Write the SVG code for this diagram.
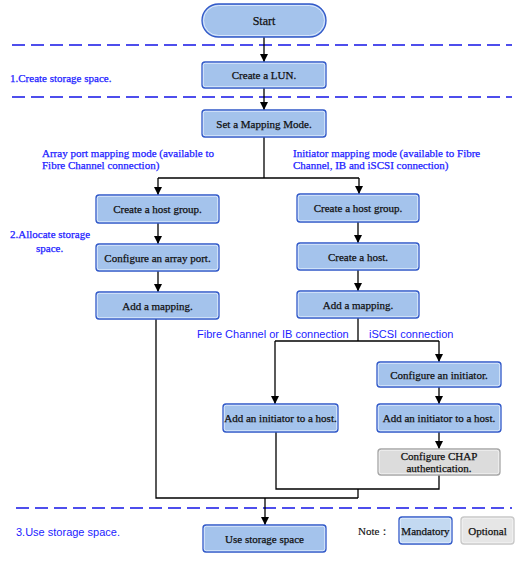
<svg xmlns="http://www.w3.org/2000/svg" width="528" height="561" viewBox="0 0 528 561">
<style>
.n rect{fill:#a4c3ec;stroke:#3158c8;stroke-width:1.3}
.n .hl{fill:none;stroke:#e6f0ff;stroke-width:0.8}
.o rect{fill:#dcdcdc;stroke:#a6a6a6;stroke-width:1.3}
.o .hl{fill:none;stroke:#f4f4f4;stroke-width:0.8}
.t{font-family:"Liberation Serif","Times New Roman",serif;font-size:11px;fill:#111;stroke:#111;stroke-width:0.25;text-anchor:middle;dominant-baseline:central}
.lab{font-family:"Liberation Serif","Times New Roman",serif;font-size:11px;fill:#1c1cff;stroke:#1c1cff;stroke-width:0.25}
.sl{font-family:"Liberation Sans",Arial,sans-serif;font-size:11px;fill:#1c1cff}
.dash{stroke:#1414e6;stroke-width:1.3;stroke-dasharray:13 6;fill:none}
.c path{fill:none;stroke:#000;stroke-width:1.3}
</style>
<defs>
<marker id="ah" viewBox="0 0 8 10" refX="8" refY="5" markerWidth="8" markerHeight="10" markerUnits="userSpaceOnUse" orient="auto">
<path d="M0,1 L8,5 L0,9 Z" fill="#000"/>
</marker>
</defs>
<rect width="528" height="561" fill="#fff"/>
<g id="dividers">
<path class="dash" d="M12 45 H512"/>
<path class="dash" d="M12 97 H512"/>
<path class="dash" d="M16 508 H512"/>
</g>
<g id="labels">
<text class="lab" x="10" y="82">1.Create storage space.</text>
<text class="lab" x="10" y="238">2.Allocate storage</text>
<text class="lab" x="36" y="252">space.</text>
<text class="lab" x="42" y="157">Array port mapping mode (available to</text>
<text class="lab" x="42" y="169">Fibre Channel connection)</text>
<text class="lab" x="293" y="157">Initiator mapping mode (available to Fibre</text>
<text class="lab" x="293" y="169">Channel, IB and iSCSI connection)</text>
<text class="sl" x="197" y="338">Fibre Channel or IB connection</text>
<text class="sl" x="369" y="338">iSCSI connection</text>
<text class="sl" x="16" y="536">3.Use storage space.</text>
</g>
<g id="connectors" class="c">
<path d="M264 37 V62" marker-end="url(#ah)"/>
<path d="M264 88 V110" marker-end="url(#ah)"/>
<path d="M264 137 V178"/>
<path d="M158 178 H359"/>
<path d="M158 178 V195" marker-end="url(#ah)"/>
<path d="M359 178 V194" marker-end="url(#ah)"/>
<path d="M158 223 V244" marker-end="url(#ah)"/>
<path d="M158 271 V292" marker-end="url(#ah)"/>
<path d="M358 222 V243" marker-end="url(#ah)"/>
<path d="M358 270 V291" marker-end="url(#ah)"/>
<path d="M358 318 V341"/>
<path d="M275 341 H439"/>
<path d="M439 341 V362" marker-end="url(#ah)"/>
<path d="M275 341 V404" marker-end="url(#ah)"/>
<path d="M439 387 V404" marker-end="url(#ah)"/>
<path d="M439 432 V449" marker-end="url(#ah)"/>
<path d="M276 432 V489 H439 V475"/>
<path d="M358 489 V498"/>
<path d="M156 319 V498 H358"/>
<path d="M265 498 V525" marker-end="url(#ah)"/>
</g>
<g id="start" class="n">
<rect x="202" y="4" width="124" height="33" rx="16.5"/>
<rect class="hl" x="203.5" y="5.5" width="121" height="30" rx="15"/>
<text class="t" x="264" y="20.5" style="font-size:12px">Start</text>
</g>
<g id="create-lun" class="n">
<rect x="202" y="62" width="124" height="26" rx="3"/>
<rect class="hl" x="203.3" y="63.3" width="121.4" height="23.4" rx="2"/>
<text class="t" x="264" y="75">Create a LUN.</text>
</g>
<g id="set-mapping-mode" class="n">
<rect x="202" y="110" width="124" height="27" rx="3"/>
<rect class="hl" x="203.3" y="111.3" width="121.4" height="24.4" rx="2"/>
<text class="t" x="264" y="123.5">Set a Mapping Mode.</text>
</g>
<g id="l-host-group" class="n">
<rect x="96" y="195" width="123" height="28" rx="3"/>
<rect class="hl" x="97.3" y="196.3" width="120.4" height="25.4" rx="2"/>
<text class="t" x="157.5" y="209">Create a host group.</text>
</g>
<g id="l-array-port" class="n">
<rect x="96" y="244" width="123" height="27" rx="3"/>
<rect class="hl" x="97.3" y="245.3" width="120.4" height="24.4" rx="2"/>
<text class="t" x="157.5" y="257.5">Configure an array port.</text>
</g>
<g id="l-add-mapping" class="n">
<rect x="96" y="292" width="123" height="27" rx="3"/>
<rect class="hl" x="97.3" y="293.3" width="120.4" height="24.4" rx="2"/>
<text class="t" x="157.5" y="305.5">Add a mapping.</text>
</g>
<g id="r-host-group" class="n">
<rect x="297" y="194" width="122" height="28" rx="3"/>
<rect class="hl" x="298.3" y="195.3" width="119.4" height="25.4" rx="2"/>
<text class="t" x="358" y="208">Create a host group.</text>
</g>
<g id="r-host" class="n">
<rect x="297" y="243" width="122" height="27" rx="3"/>
<rect class="hl" x="298.3" y="244.3" width="119.4" height="24.4" rx="2"/>
<text class="t" x="358" y="256.5">Create a host.</text>
</g>
<g id="r-add-mapping" class="n">
<rect x="297" y="291" width="122" height="27" rx="3"/>
<rect class="hl" x="298.3" y="292.3" width="119.4" height="24.4" rx="2"/>
<text class="t" x="358" y="304.5">Add a mapping.</text>
</g>
<g id="fc-add-initiator" class="n">
<rect x="223" y="404" width="115" height="28" rx="3"/>
<rect class="hl" x="224.3" y="405.3" width="112.4" height="25.4" rx="2"/>
<text class="t" x="280.5" y="418">Add an initiator to a host.</text>
</g>
<g id="configure-initiator" class="n">
<rect x="377" y="362" width="124" height="25" rx="3"/>
<rect class="hl" x="378.3" y="363.3" width="121.4" height="22.4" rx="2"/>
<text class="t" x="439" y="374.5">Configure an initiator.</text>
</g>
<g id="iscsi-add-initiator" class="n">
<rect x="377" y="404" width="124" height="28" rx="3"/>
<rect class="hl" x="378.3" y="405.3" width="121.4" height="25.4" rx="2"/>
<text class="t" x="439" y="418">Add an initiator to a host.</text>
</g>
<g id="chap" class="o">
<rect x="378" y="449" width="122" height="26" rx="3"/>
<rect class="hl" x="379.3" y="450.3" width="119.4" height="23.4" rx="2"/>
<text class="t" x="439" y="455.5">Configure CHAP</text>
<text class="t" x="439" y="468">authentication.</text>
</g>
<g id="use-storage" class="n">
<rect x="203" y="525" width="123" height="27" rx="3"/>
<rect class="hl" x="204.3" y="526.3" width="120.4" height="24.4" rx="2"/>
<text class="t" x="264.5" y="538.5">Use storage space</text>
</g>
<g id="legend">
<text class="t" x="358" y="531" style="text-anchor:start;stroke-width:0.15">Note：</text>
<g id="legend-mandatory" class="n">
<rect x="399" y="517" width="53" height="27" rx="3" style="fill:#c3d9f1"/>
<rect class="hl" x="400.3" y="518.3" width="50.4" height="24.4" rx="2"/>
<text class="t" x="425.5" y="530.5">Mandatory</text>
</g>
<g id="legend-optional" class="o">
<rect x="461" y="517" width="53" height="27" rx="3" style="fill:#e6e6e6;stroke:#c8c8c8"/>
<rect class="hl" x="462.3" y="518.3" width="50.4" height="24.4" rx="2"/>
<text class="t" x="487.5" y="530.5">Optional</text>
</g>
</g>
</svg>
